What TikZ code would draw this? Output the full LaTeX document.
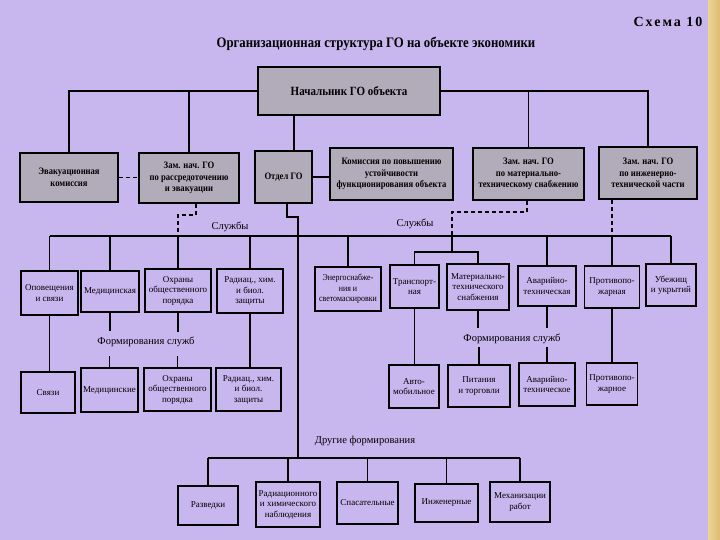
\documentclass[tikz,border=0pt]{standalone}
\usepackage{fontspec}
\setmainfont{Liberation Serif}
\newfontfamily\condfont[FakeStretch=0.88]{Liberation Serif}
\newfontfamily\spacedfont[LetterSpace=14]{Liberation Serif}
\definecolor{bgcol}{RGB}{200,182,238}
\definecolor{boxgray}{RGB}{178,172,186}
\definecolor{goldL}{RGB}{236,212,150}
\definecolor{goldR}{RGB}{222,188,110}
\begin{document}
\begin{tikzpicture}[x=1pt,y=-1pt,
 gbox/.style={draw=black, line width=1.8pt, fill=boxgray, font=\condfont\bfseries\fontsize{9.8}{11.5}\selectfont, align=center, inner sep=0.5pt},
 sbox/.style={draw=black, line width=1.7pt, fill=bgcol, font=\fontsize{9}{10.5}\selectfont, align=center, inner sep=0.5pt},
 conn/.style={line width=1.6pt},
 dconn/.style={line width=1.6pt, dash pattern=on 4pt off 3pt},
 lbl/.style={font=\fontsize{10.5}{12}\selectfont, inner sep=1pt}]
\useasboundingbox (0,0) rectangle (720,540);
\fill[bgcol] (0,0) rectangle (720,540);
\shade[left color=goldL, right color=goldR] (708,0) rectangle (720,540);

% titles
\node[font=\spacedfont\bfseries\fontsize{14}{16}\selectfont, inner sep=0] (schema) at (668,22) {Схема 10};
\node[font=\condfont\bfseries\fontsize{14.5}{17}\selectfont, inner sep=0] (title) at (376,44) {Организационная структура ГО на объекте экономики};

% top
\node[gbox, font=\condfont\bfseries\fontsize{12.5}{14}\selectfont, minimum width=182, minimum height=48] (boss) at (349,91) {Начальник ГО объекта};

% second row
\node[gbox, minimum width=98, minimum height=49] (evac) at (69,177.5) {Эвакуационная\\комиссия};
\node[gbox, minimum width=100, minimum height=50] (zamr) at (189,178) {Зам. нач. ГО\\по рассредоточению\\и эвакуации};
\node[gbox, minimum width=57, minimum height=52] (otdel) at (283.5,177) {Отдел ГО};
\node[gbox, minimum width=123, minimum height=52] (komis) at (391.5,174) {Комиссия по повышению\\устойчивости\\функционирования объекта};
\node[gbox, minimum width=111, minimum height=52] (zamm) at (528.5,174) {Зам. нач. ГО\\по материально-\\техническому снабжению};
\node[gbox, minimum width=98, minimum height=52] (zami) at (648,173) {Зам. нач. ГО\\по инженерно-\\технической части};

% services
\node[sbox, minimum width=57, minimum height=44] (opov) at (49.5,293) {Оповещения\\и связи};
\node[sbox, minimum width=58, minimum height=41] (med) at (110,291.5) {Медицинская};
\node[sbox, minimum width=66, minimum height=43] (ohr) at (178,290.5) {Охраны\\общественного\\порядка};
\node[sbox, minimum width=66, minimum height=44] (rad) at (250,291) {Радиац., хим.\\и биол.\\защиты};
\node[sbox, font=\condfont\fontsize{9}{10.5}\selectfont, minimum width=66, minimum height=44] (energ) at (348,289) {Энергоснабже-\\ния и\\светомаскировки};
\node[sbox, minimum width=49, minimum height=43] (trans) at (414.5,286.5) {Транспорт-\\ная};
\node[sbox, minimum width=62, minimum height=46] (mat) at (478,287) {Материально-\\технического\\снабжения};
\node[sbox, minimum width=58, minimum height=40] (avar) at (547,286) {Аварийно-\\техническая};
\node[sbox, minimum width=55, minimum height=42] (protiv) at (612,287) {Противопо-\\жарная};
\node[sbox, minimum width=50, minimum height=42] (ubezh) at (671,285) {Убежищ\\и укрытий};

% service formations
\node[sbox, minimum width=54, minimum height=41] (svyazi) at (48,392.5) {Связи};
\node[sbox, minimum width=57, minimum height=44] (medf) at (109.5,390) {Медицинские};
\node[sbox, minimum width=67, minimum height=43] (ohrf) at (177.5,389.5) {Охраны\\общественного\\порядка};
\node[sbox, minimum width=65, minimum height=43] (radf) at (248.5,389.5) {Радиац., хим.\\и биол.\\защиты};
\node[sbox, minimum width=50, minimum height=43] (avto) at (414,386.5) {Авто-\\мобильное};
\node[sbox, minimum width=62, minimum height=42] (pit) at (479,386) {Питания\\и торговли};
\node[sbox, minimum width=56, minimum height=43] (avarf) at (547,384.5) {Аварийно-\\техническое};
\node[sbox, minimum width=51, minimum height=42] (protf) at (612,384) {Противопо-\\жарное};

% other formations
\node[sbox, minimum width=60, minimum height=39] (razv) at (208,505.5) {Разведки};
\node[sbox, minimum width=64, minimum height=45] (radn) at (288,504.5) {Радиационного\\и химического\\наблюдения};
\node[sbox, minimum width=61, minimum height=42] (spas) at (367.5,503) {Спасательные};
\node[sbox, minimum width=63, minimum height=38] (inzh) at (446.5,503) {Инженерные};
\node[sbox, minimum width=60, minimum height=40] (mech) at (520,502) {Механизации\\работ};

% labels
\node[lbl] (sl1) at (230,227) {Службы};
\node[lbl] (sl2) at (415,224) {Службы};
\node[lbl] (fs1) at (146,342) {Формирования служб};
\node[lbl] (fs2) at (512,339) {Формирования служб};
\node[lbl] (df) at (365,441) {Другие формирования};

% top connectors
\draw[conn] (boss.west) -| (evac.north);
\draw[conn] (boss.west) -| (zamr.north);
\draw[conn] (boss.east) -| (zamm.north);
\draw[conn] (boss.east) -| (zami.north);
\coordinate (bdx) at (294,0);
\draw[conn] (boss.south -| bdx) -- (otdel.north -| bdx);
\draw[dconn] (evac.east) -- (zamr.west |- evac.east);
\draw[conn] (otdel.east) -- (komis.west |- otdel.east);

% services line
\coordinate (sl) at (49.5,236);
\coordinate (sr) at (671,236);
\draw[conn] (sl) -- (sr);
\foreach \n in {opov,med,ohr,rad,energ,avar,protiv,ubezh}
  \draw[conn] (\n.north |- sl) -- (\n.north);

% dashed subordination
\coordinate (d1) at (196,215);
\draw[dconn] (zamr.south -| d1) -- (d1) -| (ohr.north |- sl);
\coordinate (d2) at (527,212);
\coordinate (brk) at (452,252);
\draw[dconn] (zamm.south -| d2) -- (d2) -| (brk |- sl);
\draw[conn] (brk |- sl) -- (brk);
\draw[conn] (trans.north) |- (brk) -| (mat.north);
\draw[dconn] (zami.south -| protiv.north) -- (protiv.north |- sl);

% otdel long line
\coordinate (o1) at (287,217);
\coordinate (ox) at (298,0);
\coordinate (ofl) at (208,458);
\draw[conn] (otdel.south -| o1) -- (o1) -| (ofl -| ox);
\draw[conn] (razv.north |- ofl) -- (mech.north |- ofl);
\foreach \n in {razv,radn,spas,inzh,mech}
  \draw[conn] (\n.north |- ofl) -- (\n.north);

% service -> formations
\draw[conn] (opov.south) -- (opov.south |- svyazi.north);
\draw[conn] (rad.south) -- (rad.south |- radf.north);
\draw[conn] (trans.south) -- (trans.south |- avto.north);
\draw[conn] (protiv.south) -- (protiv.south |- protf.north);
\draw[conn] (med.south) -- ++(0,18);
\draw[conn] (medf.north) -- ++(0,-11);
\draw[conn] (ohr.south) -- ++(0,19);
\draw[conn] (ohrf.north) -- ++(0,-11);
\draw[conn] (mat.south) -- ++(0,17);
\draw[conn] (pit.north) -- ++(0,-17);
\draw[conn] (avar.south) -- ++(0,21);
\draw[conn] (avarf.north) -- ++(0,-15);
\end{tikzpicture}
\end{document}
